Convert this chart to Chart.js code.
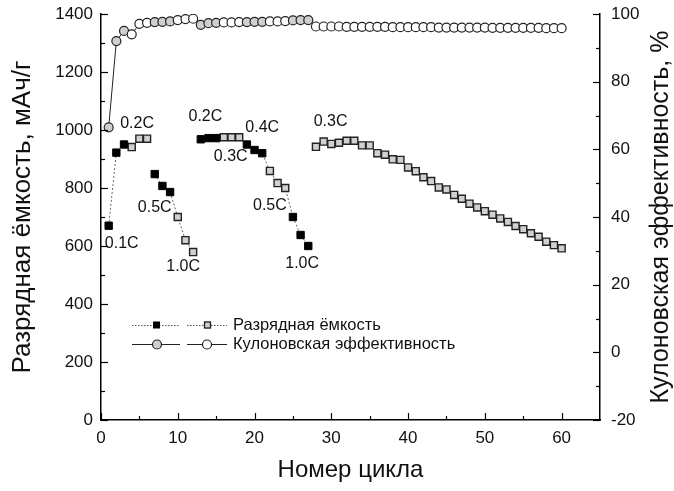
<!DOCTYPE html>
<html>
<head>
<meta charset="utf-8">
<script src="https://cdn.jsdelivr.net/npm/chart.js@4"></script>
<style>
  html, body { margin: 0; padding: 0; background: #fff; }
  #wrap { width: 674px; height: 491px; }
</style>
</head>
<body>
<div id="wrap"><canvas id="chart"></canvas></div>
<script>
// cycle numbers
const cycles = [1, 2, 3, 4, 5, 6, 7, 8, 9, 10, 11, 12, 13, 14, 15, 16, 17, 18, 19, 20,
  21, 22, 23, 24, 25, 26, 27, 28, 29, 30, 31, 32, 33, 34, 35, 36, 37, 38, 39, 40,
  41, 42, 43, 44, 45, 46, 47, 48, 49, 50, 51, 52, 53, 54, 55, 56, 57, 58, 59, 60];

// discharge capacity, mAh/g
const capacity = [670, 922, 950, 941, 970, 970,
  848, 807, 786, 700, 620, 579,
  968, 972, 972, 975, 975, 975, 950, 931, 920, 859, 817, 800, 700, 638, 600,
  942, 960, 952, 956, 963, 963, 947, 947, 920, 915, 899, 897, 871, 858, 837, 824,
  802, 795, 776, 763, 746, 733, 720, 708, 695, 683, 669, 658, 644, 632, 615, 603, 592];

// 1 = filled (black) marker, 0 = open (grey) marker
const filled = [1, 1, 1, 0, 0, 0, 1, 1, 1, 0, 0, 0, 1, 1, 1, 0, 0, 0, 1, 1, 1, 0, 0, 0, 1, 1, 1,
  0, 0, 0, 0, 0, 0, 0, 0, 0, 0, 0, 0, 0, 0, 0, 0, 0, 0, 0, 0, 0, 0, 0, 0, 0, 0, 0, 0, 0, 0, 0, 0, 0, 0];

// cycles where a new rate block starts (no connecting line)
const blockStarts = [7, 13, 28];

// coulombic efficiency, %
const efficiency = [66.5, 92.0, 95.0, 94.0, 97.1, 97.4, 97.6, 97.7, 97.8, 98.2, 98.5, 98.6,
  96.8, 97.3, 97.4, 97.5, 97.5, 97.6, 97.6, 97.7, 97.7, 97.8, 97.8, 97.9, 98.1, 98.2, 98.2,
  96.3, 96.3, 96.3, 96.3, 96.2, 96.2, 96.2, 96.2, 96.2, 96.2, 96.1, 96.1, 96.1, 96.1, 96.1,
  96.1, 96.0, 96.0, 96.0, 96.0, 96.0, 96.0, 96.0, 95.9, 95.9, 95.9, 95.9, 95.9, 95.9, 95.9,
  95.8, 95.8, 95.8];

// rate labels: text, cycle, capacity (label centre)
const rateLabels = [
  ['0.1C', 2.7, 610], ['0.2C', 4.7, 1021], ['0.5C', 7.0, 734], ['1.0C', 10.7, 528],
  ['0.2C', 13.6, 1045], ['0.3C', 16.9, 907], ['0.4C', 21.0, 1010], ['0.5C', 22.0, 738],
  ['1.0C', 26.2, 538], ['0.3C', 29.9, 1028]
];

const xTickValues = [0, 10, 20, 30, 40, 50, 60];
const yTickValues = [0, 200, 400, 600, 800, 1000, 1200, 1400];
const y1TickValues = [-20, 0, 20, 40, 60, 80, 100];

const legendNames = ['Разрядная ёмкость', 'Кулоновская эффективность'];
const rightTitle = 'Кулоновская эффективность, %';

const FONT = "'Liberation Sans', Arial, sans-serif";

const capPoints = cycles.map((c, i) => ({ x: c, y: capacity[i] }));
const effPoints = cycles.map((c, i) => ({ x: c, y: efficiency[i] }));
const filledPoints = capPoints.filter((p, i) => filled[i]);
const openPoints = capPoints.filter((p, i) => !filled[i]);

// inward major/minor ticks drawn from the chart's own scales
const innerTicks = {
    id: 'innerTicks',
    afterDraw(chart) {
        const ctx = chart.ctx;
        const a = chart.chartArea;
        ctx.save();
        ctx.strokeStyle = '#000';
        ctx.lineWidth = 1.2;
        const xs = chart.scales.x, ys = chart.scales.y, y1 = chart.scales.y1;
        const tick = (x1, yA, x2, yB) => { ctx.beginPath(); ctx.moveTo(x1, yA); ctx.lineTo(x2, yB); ctx.stroke(); };
        xTickValues.forEach(v => {
            const p = Math.round(xs.getPixelForValue(v)) + 0.5;
            tick(p, a.bottom, p, a.bottom - 7);
            const m = Math.round(xs.getPixelForValue(v + 5)) + 0.5;
            if (v + 5 < 65) tick(m, a.bottom, m, a.bottom - 4);
        });
        yTickValues.forEach(v => {
            const p = Math.round(ys.getPixelForValue(v)) + 0.5;
            tick(a.left, p, a.left + 7, p);
            if (v < 1400) {
                const m = Math.round(ys.getPixelForValue(v + 100)) + 0.5;
                tick(a.left, m, a.left + 4, m);
            }
        });
        y1TickValues.forEach(v => {
            const p = Math.round(y1.getPixelForValue(v)) + 0.5;
            tick(a.right, p, a.right - 7, p);
            if (v < 100) {
                const m = Math.round(y1.getPixelForValue(v + 10)) + 0.5;
                tick(a.right, m, a.right - 4, m);
            }
        });
        // right axis title, reading bottom-to-top like the left one
        ctx.translate(661, (a.top + a.bottom) / 2);
        ctx.rotate(-Math.PI / 2);
        ctx.font = '25px ' + FONT;
        ctx.fillStyle = '#111';
        ctx.textAlign = 'center';
        ctx.textBaseline = 'middle';
        ctx.fillText(rightTitle, 0, 0);
        ctx.restore();
    }
};

// C-rate annotations
const rateText = {
    id: 'rateText',
    afterDatasetsDraw(chart) {
        const ctx = chart.ctx;
        ctx.save();
        ctx.font = '16px ' + FONT;
        ctx.fillStyle = '#111';
        ctx.textAlign = 'center';
        ctx.textBaseline = 'middle';
        rateLabels.forEach(([t, cx, cy]) => {
            ctx.fillText(t, chart.scales.x.getPixelForValue(cx), chart.scales.y.getPixelForValue(cy));
        });
        ctx.restore();
    }
};

// legend in the style of the original figure
const figLegend = {
    id: 'figLegend',
    afterDraw(chart) {
        const ctx = chart.ctx;
        ctx.save();
        const rows = [325, 344];
        const groups = [[132, 180], [187, 227]];
        // row 1: dotted line + squares
        ctx.strokeStyle = '#555';
        ctx.lineWidth = 1;
        ctx.setLineDash([1.5, 1.5]);
        groups.forEach(([g0, g1]) => {
            ctx.beginPath(); ctx.moveTo(g0, rows[0] + 0.5); ctx.lineTo(g1, rows[0] + 0.5); ctx.stroke();
        });
        ctx.setLineDash([]);
        ctx.fillStyle = '#000';
        ctx.fillRect(153, rows[0] - 3.5, 7, 7);
        ctx.fillStyle = '#d0d0d0';
        ctx.fillRect(204, rows[0] - 3.5, 7, 7);
        ctx.strokeStyle = '#222';
        ctx.lineWidth = 1.3;
        ctx.strokeRect(204.5, rows[0] - 3, 6, 6);
        // row 2: solid line + circles
        ctx.strokeStyle = '#222';
        ctx.lineWidth = 1.2;
        groups.forEach(([g0, g1]) => {
            ctx.beginPath(); ctx.moveTo(g0, rows[1] + 0.5); ctx.lineTo(g1, rows[1] + 0.5); ctx.stroke();
        });
        [[157, '#d0d0d0'], [207, '#fff']].forEach(([cx, col]) => {
            ctx.beginPath(); ctx.arc(cx, rows[1] + 0.5, 4.5, 0, Math.PI * 2);
            ctx.fillStyle = col; ctx.fill(); ctx.stroke();
        });
        ctx.fillStyle = '#111';
        ctx.font = '16.5px ' + FONT;
        ctx.textBaseline = 'middle';
        ctx.fillText(legendNames[0], 233, rows[0]);
        ctx.fillText(legendNames[1], 233, rows[1]);
        ctx.restore();
    }
};

const axisBorder = { display: true, color: '#000', width: 1.5 };
const tickFont = { family: FONT, size: 17 };
const plainTick = v => String(v);

new Chart(document.getElementById('chart').getContext('2d'), {
    data: {
        datasets: [
            {
                type: 'scatter',
                data: filledPoints,
                yAxisID: 'y',
                pointStyle: 'rect',
                pointRadius: 5.2,
                pointBackgroundColor: '#000',
                pointBorderColor: '#000',
                pointBorderWidth: 1,
                order: 1
            },
            {
                type: 'scatter',
                data: openPoints,
                yAxisID: 'y',
                pointStyle: 'rect',
                pointRadius: 5.0,
                pointBackgroundColor: '#d0d0d0',
                pointBorderColor: '#222',
                pointBorderWidth: 1.4,
                order: 2
            },
            {
                type: 'line',
                data: capPoints,
                yAxisID: 'y',
                borderColor: '#666',
                borderWidth: 1,
                borderDash: [2, 2],
                pointRadius: 0,
                tension: 0,
                segment: {
                    borderColor: c => blockStarts.includes(c.p1.parsed.x) ? 'rgba(0,0,0,0)' : '#666'
                },
                order: 3
            },
            {
                type: 'line',
                data: effPoints,
                yAxisID: 'y1',
                borderColor: '#222',
                borderWidth: 1,
                tension: 0,
                pointStyle: 'circle',
                pointRadius: 4.5,
                pointBorderWidth: 1.2,
                pointBorderColor: '#222',
                pointBackgroundColor: filled.map(f => f ? '#cfcfcf' : '#fff'),
                order: 0
            }
        ]
    },
    options: {
        responsive: true,
        maintainAspectRatio: false,
        animation: false,
        layout: { padding: { top: 14, left: 0, right: 0, bottom: 0 } },
        plugins: {
            legend: { display: false },
            tooltip: { enabled: false }
        },
        scales: {
            x: {
                type: 'linear',
                min: 0,
                max: 65,
                afterBuildTicks: s => { s.ticks = xTickValues.map(v => ({ value: v })); },
                afterFit: s => { s.height = 71; s.paddingLeft = 0; s.paddingRight = 0; },
                ticks: { font: tickFont, color: '#111', padding: 8, maxRotation: 0, autoSkip: false, callback: plainTick },
                grid: { display: false, drawTicks: false },
                border: axisBorder,
                title: { display: true, text: 'Номер цикла', font: { family: FONT, size: 24 }, color: '#111', padding: { top: 0, bottom: 6 } }
            },
            y: {
                type: 'linear',
                position: 'left',
                min: 0,
                max: 1400,
                afterBuildTicks: s => { s.ticks = yTickValues.map(v => ({ value: v })); },
                afterFit: s => { s.width = 101; s.paddingTop = 0; s.paddingBottom = 0; },
                ticks: { font: tickFont, color: '#111', padding: 8, callback: plainTick },
                grid: { display: false, drawTicks: false },
                border: axisBorder,
                title: { display: true, text: 'Разрядная ёмкость, мАч/г', font: { family: FONT, size: 26 }, color: '#111', padding: { top: 7, bottom: 0 } }
            },
            y1: {
                type: 'linear',
                position: 'right',
                min: -20,
                max: 100,
                afterBuildTicks: s => { s.ticks = y1TickValues.map(v => ({ value: v })); },
                afterFit: s => { s.width = 74; s.paddingTop = 0; s.paddingBottom = 0; },
                ticks: { font: tickFont, color: '#111', padding: 11, callback: plainTick },
                grid: { display: false, drawTicks: false },
                border: axisBorder,
                title: { display: false }
            }
        }
    },
    plugins: [innerTicks, rateText, figLegend]
});
</script>
</body>
</html>
